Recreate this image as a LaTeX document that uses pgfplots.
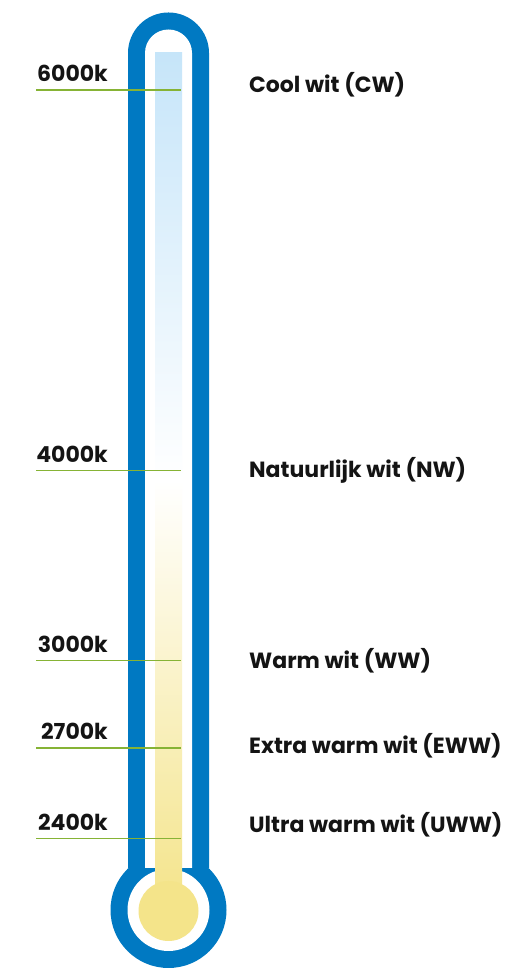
\documentclass[border=0pt]{standalone}
\usepackage{pgfplots}
\pgfplotsset{compat=1.18}
\usepackage{fontspec}
\setmainfont{Poppins}
\definecolor{tblue}{HTML}{0079C2}
\definecolor{lgreen}{HTML}{86B335}
\definecolor{ltblue}{HTML}{C6E5F9}
\definecolor{lyellow}{HTML}{F4E48A}
\definecolor{txt}{HTML}{141414}
\begin{document}
\begin{tikzpicture}
\begin{axis}[name=ax,
  width=505pt, height=968pt, scale only axis,
  xmin=0, xmax=505, ymin=0, ymax=968,
  hide axis, clip=false]
% thermometer body
\fill[tblue] (axis cs:128,915) -- (axis cs:128,100) -- (axis cs:209,100) -- (axis cs:209,915)
   arc[start angle=0,end angle=180,radius=40.5pt] -- cycle;
\fill[tblue] (axis cs:168.5,58) circle[radius=58pt];
\fill[white] (axis cs:145,915) -- (axis cs:145,100) -- (axis cs:192,100) -- (axis cs:192,915)
   arc[start angle=0,end angle=180,radius=23.5pt] -- cycle;
\fill[white] (axis cs:168.5,58) circle[radius=41pt];
\fill[top color=ltblue, bottom color=lyellow, middle color=white]
   (axis cs:155,60) rectangle (axis cs:182,915);
\fill[lyellow] (axis cs:168.5,57) circle[radius=30pt];
% marker lines
\addplot[lgreen, line width=1.2pt] coordinates {(36,878) (181,878)};
\addplot[lgreen, line width=1.2pt] coordinates {(36,497.5) (181,497.5)};
\addplot[lgreen, line width=1.2pt] coordinates {(36,307.5) (181,307.5)};
\addplot[lgreen, line width=1.2pt] coordinates {(36,220) (181,220)};
\addplot[lgreen, line width=1.2pt] coordinates {(36,129.5) (181,129.5)};
% labels
\begin{scope}[every node/.style={font=\fontsize{22}{26}\selectfont\bfseries, text=txt, inner sep=0pt}]
\node[anchor=base east] at (axis cs:108,886) {6000k};
\node[anchor=base east] at (axis cs:108,505.5) {4000k};
\node[anchor=base east] at (axis cs:108,315.5) {3000k};
\node[anchor=base east] at (axis cs:108,228) {2700k};
\node[anchor=base east] at (axis cs:108,137.5) {2400k};
\node[anchor=west] at (axis cs:249,883) {Cool wit (CW)};
\node[anchor=west] at (axis cs:249,498) {Natuurlijk wit (NW)};
\node[anchor=west] at (axis cs:249,307) {Warm wit (WW)};
\node[anchor=west] at (axis cs:249,222) {Extra warm wit (EWW)};
\node[anchor=west] at (axis cs:249,143) {Ultra warm wit (UWW)};
\end{scope}
\end{axis}
\pgfresetboundingbox
\useasboundingbox (ax.south west) rectangle (ax.north east);
\end{tikzpicture}
\end{document}
